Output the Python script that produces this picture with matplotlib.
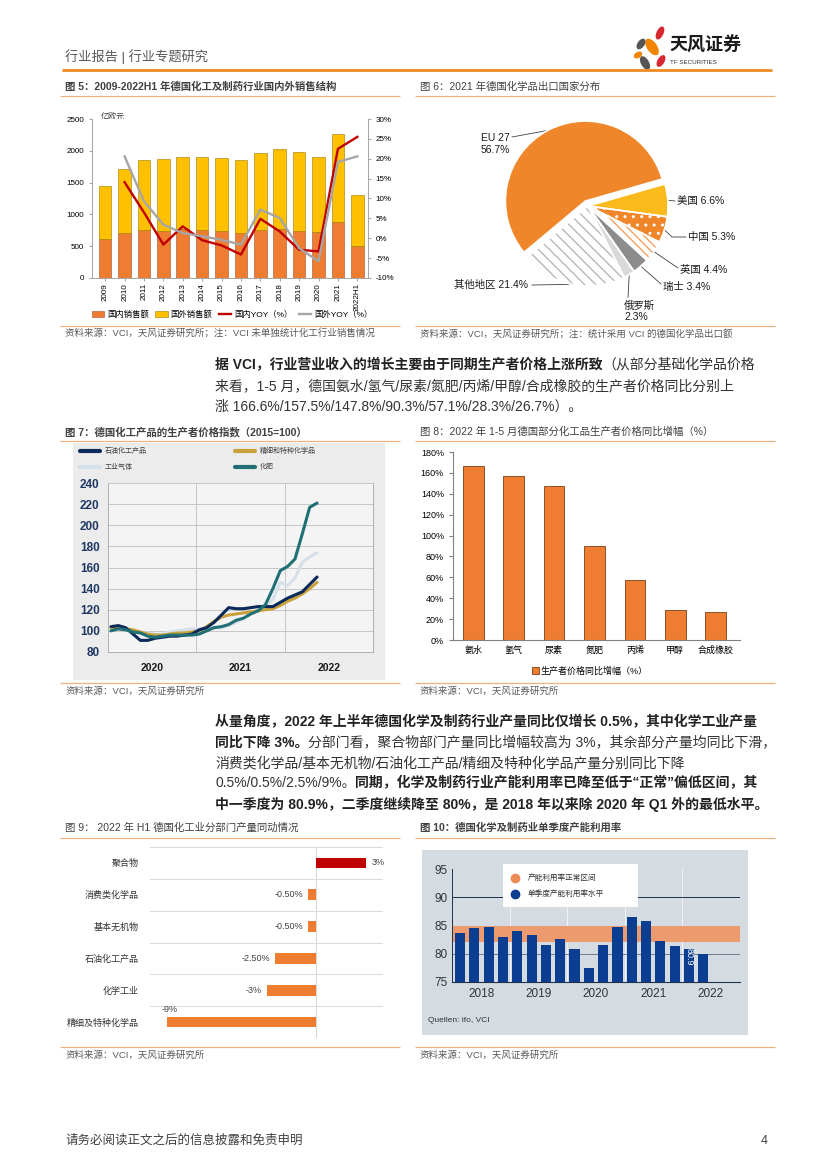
import numpy as np
import matplotlib.pyplot as plt
import matplotlib.patches as mpatches

plt.rcParams['font.family'] = ['Liberation Sans', 'Noto Sans CJK SC', 'DejaVu Sans']
plt.rcParams['hatch.linewidth'] = 1.0

W, H = 827, 1169

# ---- 图5 data
years5 = ['2009', '2010', '2011', '2012', '2013', '2014', '2015', '2016',
          '2017', '2018', '2019', '2020', '2021', '2022H1']
domestic5 = [620, 710, 760, 745, 770, 760, 745, 715, 750, 770, 745, 725, 880, 500]
foreign5 = [830, 1010, 1090, 1125, 1140, 1150, 1145, 1135, 1210, 1260, 1240, 1185, 1390, 805]
yoy_dom5 = [np.nan, 14.1, 6.5, -1.6, 3.0, -0.5, -1.8, -4.1, 4.9, 1.7, -2.9, -3.3, 22.5, 25.5]
yoy_for5 = [np.nan, 20.6, 9.3, 3.4, 1.3, 0.5, -0.4, -1.6, 7.2, 5.1, -2.5, -5.8, 19.2, 20.6]

# ---- 图6 data
names6 = ['EU 27', '其他地区', '俄罗斯', '瑞士', '英国', '中国', '美国']
shares6 = [56.7, 21.4, 2.3, 3.4, 4.4, 5.3, 6.6]

# ---- 图7 data (monthly, Jan 2020 - May 2022)
petro7 = [104, 105, 103, 97, 91, 91, 93, 94, 95, 95, 96, 97, 101, 103, 108, 115, 122,
          121, 121, 122, 123, 123, 123, 127, 131, 134, 137, 144, 151]
fine7 = [103, 102, 102, 101, 99, 97, 96, 96, 97, 98, 98, 99, 100, 104, 109, 113, 115,
         116, 117, 118, 119, 120, 121, 124, 128, 131, 135, 140, 146]
gas7 = [101, 102, 101, 100, 98, 98, 97, 97, 99, 100, 101, 102, 102, 102, 103, 103, 105,
        108, 112, 117, 120, 123, 130, 146, 143, 150, 165, 170, 174]
fert7 = [100, 102, 101, 99, 98, 95, 94, 95, 96, 96, 96, 96, 97, 100, 103, 104, 106,
         110, 112, 116, 119, 125, 140, 157, 161, 168, 192, 217, 221]
series7 = ['石油化工产品', '精细和特种化学品', '工业气体', '化肥']
years7 = ['2020', '2021', '2022']

# ---- 图8 data
cats8 = ['氨水', '氢气', '尿素', '氮肥', '丙烯', '甲醇', '合成橡胶']
vals8 = [166.6, 157.5, 147.8, 90.3, 57.1, 28.3, 26.7]

# ---- 图9 data
cats9 = ['聚合物', '消费类化学品', '基本无机物', '石油化工产品', '化学工业', '精细及特种化学品']
vals9 = [3, -0.5, -0.5, -2.5, -3, -9]
labels9 = ['3%', '-0.50%', '-0.50%', '-2.50%', '-3%', '-9%']

# ---- 图10 data (quarterly 2018Q1 - 2022Q2)
util10 = [83.7, 84.5, 84.8, 83.0, 84.0, 83.4, 81.6, 82.6, 80.8, 77.4, 81.5, 84.8,
          86.5, 85.8, 82.3, 81.4, 80.9, 80.0]
years10 = ['2018', '2019', '2020', '2021', '2022']
band10 = (82, 85)

ORANGE = '#EE7D31'
LINE_OR = '#F0B27A'
SRC_C = '#595959'

fig = plt.figure(figsize=(8.27, 11.69), dpi=100)
page = fig.add_axes([0, 0, 1, 1])
page.set_xlim(0, W)
page.set_ylim(H, 0)
page.axis('off')


def px_axes(x0, y0, x1, y1, **kw):
    return fig.add_axes([x0 / W, 1 - y1 / H, (x1 - x0) / W, (y1 - y0) / H], **kw)


def hline(y, x0, x1, color=LINE_OR, lw=0.9):
    page.plot([x0, x1], [y, y], color=color, lw=lw, solid_capstyle='butt')


renderer = fig.canvas.get_renderer()


def rich_line(x, y, parts, size=10):
    for s, bold in parts:
        t = page.text(x, y, s, fontsize=size, va='center', ha='left',
                      fontweight='bold' if bold else 'normal',
                      color='#222222' if bold else '#333333')
        x += t.get_window_extent(renderer=renderer).width


# ---------------- header ----------------
page.text(65, 57, '行业报告 | 行业专题研究', fontsize=9.5, color='#595959', va='center')
hline(70, 62, 772, color='#F08A24', lw=2)
petals = [(660, 33, 7, 14, 25, '#D7282F'), (652, 47, 10, 19, -35, '#F08300'),
          (641, 44, 7, 12, 35, '#555555'), (645, 63, 8, 15, -30, '#555555'),
          (661, 61, 7, 13, 30, '#D7282F'), (638, 55, 6, 9, 60, '#F08300')]
for cx, cy, w, h, a, c in petals:
    page.add_patch(mpatches.Ellipse((cx, cy), w, h, angle=a, color=c, lw=0))
page.text(669, 46, '天风证券', fontsize=13, fontweight='bold', color='#1A1A1A', va='center')
page.text(670, 62, 'TF SECURITIES', fontsize=4.5, color='#333333', va='center')

# ---------------- titles row 1 ----------------
page.text(65, 87, '图 5：2009-2022H1 年德国化工及制药行业国内外销售结构', fontsize=7.5,
          fontweight='bold', color='#404040', va='center')
page.text(420, 87, '图 6：2021 年德国化学品出口国家分布', fontsize=7.5, color='#404040', va='center')
hline(96, 60, 400)
hline(96, 415, 775)

# ---------------- chart 5 ----------------
ax5 = px_axes(92, 119, 368, 278)
x5 = np.arange(len(years5))
b1 = ax5.bar(x5, domestic5, 0.65, color=ORANGE, edgecolor='#A0522D', lw=0.4, label='国内销售额')
b2 = ax5.bar(x5, foreign5, 0.65, bottom=domestic5, color='#FFC000', edgecolor='#9C7A00',
             lw=0.4, label='国外销售额')
ax5.set_xlim(-0.68, 13.55)
ax5.set_ylim(0, 2500)
ax5.set_yticks(range(0, 2501, 500))
ax5.set_xticks(x5, years5, rotation=90)
ax5.tick_params(labelsize=5.8, length=2, color='#A6A6A6')
ax5.tick_params(axis='x', pad=1.5)
ax5r = ax5.twinx()
l1, = ax5r.plot(x5, yoy_dom5, color='#C00000', lw=1.7, label='国内YOY（%）')
l2, = ax5r.plot(x5, yoy_for5, color='#A6A6A6', lw=1.7, label='国外YOY（%）')
ax5r.set_ylim(-10, 30)
ax5r.set_yticks(range(-10, 31, 5), [f'{v}%' for v in range(-10, 31, 5)])
ax5r.tick_params(labelsize=5.8, length=2, color='#A6A6A6')
for a in (ax5, ax5r):
    a.spines['top'].set_visible(False)
    for s in ('left', 'right', 'bottom'):
        a.spines[s].set_color('#A6A6A6')
        a.spines[s].set_linewidth(0.6)
page.text(101, 117, '亿欧元', fontsize=5.8, va='center', color='#333333')
ax5.legend(handles=[b1, b2, l1, l2], loc='center', bbox_to_anchor=(232 / W, 1 - 315 / H),
           bbox_transform=fig.transFigure, ncol=4, frameon=False, fontsize=6,
           handlelength=1.5, handletextpad=0.3, columnspacing=0.8)
hline(326, 60, 400)
page.text(65, 334, '资料来源：VCI，天风证券研究所；注：VCI 未单独统计化工行业销售情况',
          fontsize=6.8, color=SRC_C, va='center')

# ---------------- chart 6 ----------------
ax6 = px_axes(498, 116, 678, 296)
colors6 = ['#F0862A', '#FFFFFF', '#D9D9D9', '#8C8C8C', '#FFFFFF', '#F0862A', '#FBBA1C']
explode6 = [0.07, 0, 0, 0, 0, 0, 0]
wedges, _ = ax6.pie(shares6, colors=colors6, startangle=16, counterclock=True,
                    explode=explode6, radius=1, wedgeprops=dict(linewidth=0))
wedges[1].set_hatch('\\\\\\')
wedges[1].set_edgecolor('#B8B8B8')
wedges[4].set_hatch('\\\\\\\\')
wedges[4].set_edgecolor('#F4A060')
wedges[5].set_hatch('..')
wedges[5].set_edgecolor('#FFFFFF')
for w in wedges:
    w.set_linewidth(0)
    ax6.add_patch(mpatches.Wedge(w.center, w.r, w.theta1, w.theta2, fill=False,
                                 ec='white', lw=1.2))
ax6.set_xlim(-1.125, 1.125)
ax6.set_ylim(-1.125, 1.125)
ax6.set_aspect('equal')
ax6.axis('off')
fig.canvas.draw()

label6 = [  # text x, y, line-end x, y (page px)
    (481, 144, 512, 137, True),
    (454, 285, 532, 285, False),
    (624, 311, 628, 297, True),
    (663, 287, 661, 284, False),
    (680, 270, 678, 268, False),
    (688, 237, 686, 237, False),
    (677, 201, 675, 201, False),
]
for w, n, v, (tx, ty, ex, ey, two) in zip(wedges, names6, shares6, label6):
    ang = np.deg2rad((w.theta1 + w.theta2) / 2)
    px, py = ax6.transData.transform((w.center[0] + np.cos(ang), w.center[1] + np.sin(ang)))
    py = H - py
    if n == '中国':
        page.plot([px, 672, ex], [py, ey, ey], color='#404040', lw=0.6)
    else:
        page.plot([px, ex], [py, ey], color='#404040', lw=0.6)
    s = f'{n}\n{v}%' if two else f'{n} {v}%'
    page.text(tx, ty, s, fontsize=7.5, color='#1A1A1A', va='center', ha='left', linespacing=1.15)
hline(326, 415, 775)
page.text(420, 334, '资料来源：VCI，天风证券研究所；注：统计采用 VCI 的德国化学品出口额',
          fontsize=6.8, color=SRC_C, va='center')

# ---------------- paragraph 1 ----------------
rich_line(215, 365, [('据 VCI，行业营业收入的增长主要由于同期生产者价格上涨所致', True),
                     ('（从部分基础化学品价格', False)])
rich_line(215, 386, [('来看，1-5 月，德国氨水/氢气/尿素/氮肥/丙烯/甲醇/合成橡胶的生产者价格同比分别上', False)])
rich_line(215, 407, [('涨 166.6%/157.5%/147.8%/90.3%/57.1%/28.3%/26.7%）。', False)])

# ---------------- titles row 2 ----------------
page.text(65, 432, '图 7：德国化工产品的生产者价格指数（2015=100）', fontsize=7.5,
          fontweight='bold', color='#404040', va='center')
page.text(420, 432, '图 8：2022 年 1-5 月德国部分化工品生产者价格同比增幅（%）', fontsize=7.5,
          color='#404040', va='center')
hline(441, 60, 400)
hline(441, 415, 775)

# ---------------- chart 7 ----------------
page.add_patch(mpatches.Rectangle((73, 443), 312, 237, color='#ECECEC', lw=0))
ax7 = px_axes(108, 483, 373, 652)
ax7.set_facecolor('#F4F4F4')
x7 = np.arange(len(petro7)) + 0.4
colors7 = ['#0B2A5B', '#C9A13B', '#D6E0EA', '#1F6F74']
data7 = [petro7, fine7, gas7, fert7]
for idx in (2, 1, 0, 3):
    ax7.plot(x7, data7[idx], color=colors7[idx], lw=2.2, solid_capstyle='round')
ax7.set_xlim(0, 36)
ax7.set_ylim(80, 240)
ax7.set_yticks(range(80, 241, 20))
ax7.set_xticks([6, 18, 30], years7)
ax7.set_xticks([12, 24, 36], minor=True)
ax7.grid(which='minor', axis='x', color='#BFBFBF', lw=0.6)
ax7.grid(which='major', axis='y', color='#BFBFBF', lw=0.6)
ax7.tick_params(which='both', length=0)
ax7.tick_params(axis='y', labelsize=8.5, labelcolor='#1F3864', pad=6)
ax7.tick_params(axis='x', labelsize=7.5, labelcolor='#1A1A1A', pad=8)
for lab in ax7.get_yticklabels() + ax7.get_xticklabels():
    lab.set_fontweight('bold')
ax7.spines['top'].set_visible(False)
for s in ('left', 'right', 'bottom'):
    ax7.spines[s].set_color('#A6A6A6')
    ax7.spines[s].set_linewidth(0.6)
leg7 = [(80, 451), (235, 451), (80, 467), (235, 467)]
for (lx, ly), name, c in zip(leg7, series7, colors7):
    page.plot([lx, lx + 20], [ly, ly], color=c, lw=3, solid_capstyle='round')
    page.text(lx + 25, ly, name, fontsize=5, color='#404040', va='center')
hline(683, 60, 400)
page.text(65, 691, '资料来源：VCI，天风证券研究所', fontsize=6.8, color=SRC_C, va='center')

# ---------------- chart 8 ----------------
ax8 = px_axes(453, 452, 740, 640)
x8 = np.arange(len(cats8))
bars8 = ax8.bar(x8, vals8, 0.51, color=ORANGE, edgecolor='#7F3F14', lw=0.6,
                label='生产者价格同比增幅（%）')
ax8.set_xlim(-0.5, 6.6)
ax8.set_ylim(0, 180)
ax8.set_yticks(range(0, 181, 20), [f'{v}%' for v in range(0, 181, 20)])
ax8.set_xticks(x8, cats8)
ax8.tick_params(axis='y', labelsize=6.5, length=3, color='#808080')
ax8.tick_params(axis='x', labelsize=6.5, length=0, pad=4)
ax8.spines['top'].set_visible(False)
ax8.spines['right'].set_visible(False)
ax8.spines['left'].set_color('#808080')
ax8.spines['bottom'].set_color('#808080')
ax8.legend(handles=[bars8], loc='center', bbox_to_anchor=(590 / W, 1 - 671 / H),
           bbox_transform=fig.transFigure, frameon=False, fontsize=6.5,
           handlelength=0.7, handleheight=0.7, handletextpad=0.2)
hline(683, 415, 775)
page.text(420, 691, '资料来源：VCI，天风证券研究所', fontsize=6.8, color=SRC_C, va='center')

# ---------------- paragraph 2 ----------------
rich_line(215, 722, [('从量角度，2022 年上半年德国化学及制药行业产量同比仅增长 0.5%，其中化学工业产量', True)])
rich_line(215, 742.5, [('同比下降 3%。', True),
                       ('分部门看，聚合物部门产量同比增幅较高为 3%，其余部分产量均同比下滑，', False)])
rich_line(215, 763, [('消费类化学品/基本无机物/石油化工产品/精细及特种化学品产量分别同比下降', False)])
rich_line(215, 783.5, [('0.5%/0.5%/2.5%/9%。', False),
                       ('同期，化学及制药行业产能利用率已降至低于“正常”偏低区间，其', True)])
rich_line(215, 804, [('中一季度为 80.9%，二季度继续降至 80%，是 2018 年以来除 2020 年 Q1 外的最低水平。', True)])

# ---------------- titles row 3 ----------------
page.text(65, 828, '图 9： 2022 年 H1 德国化工业分部门产量同动情况', fontsize=7.5,
          color='#404040', va='center')
page.text(420, 828, '图 10：德国化学及制药业单季度产能利用率', fontsize=7.5,
          fontweight='bold', color='#404040', va='center')
hline(838, 60, 400)
hline(838, 415, 775)

# ---------------- chart 9 ----------------
ax9 = px_axes(150, 847, 383, 1038)
y9 = np.arange(len(cats9))
colors9 = ['#C00000' if v > 0 else ORANGE for v in vals9]
ax9.barh(y9, vals9, 0.33, color=colors9, zorder=3)
ax9.set_ylim(5.5, -0.5)
ax9.set_xlim(-10, 4)
ax9.set_yticks(y9, cats9)
ax9.set_yticks(np.arange(-0.5, 6, 1), minor=True)
ax9.grid(which='minor', axis='y', color='#D9D9D9', lw=0.7)
ax9.axvline(0, color='#D9D9D9', lw=0.8, zorder=1)
ax9.set_xticks([])
ax9.tick_params(which='both', length=0)
ax9.tick_params(axis='y', labelsize=6.5, labelcolor='#333333', pad=8)
for s in ax9.spines.values():
    s.set_visible(False)
for yi, v, lab in zip(y9, vals9, labels9):
    if v > 0:
        ax9.text(v + 0.3, yi, lab, fontsize=6.5, va='center', ha='left', color='#404040')
    elif v < -5:
        ax9.text(v + 0.2, yi - 0.25, lab, fontsize=6.5, va='bottom', ha='center', color='#404040')
    else:
        ax9.text(v - 0.3, yi, lab, fontsize=6.5, va='center', ha='right', color='#404040')
hline(1047, 60, 400)
page.text(65, 1055, '资料来源：VCI，天风证券研究所', fontsize=6.8, color=SRC_C, va='center')

# ---------------- chart 10 ----------------
page.add_patch(mpatches.Rectangle((422, 850), 326, 185, color='#D4DCE2', lw=0))
ax10 = px_axes(452, 869, 740, 982)
ax10.set_facecolor('none')
x10 = np.arange(len(util10))
ax10.axhspan(band10[0], band10[1], color='#EC9A6E', lw=0, zorder=2)
for xv in (3.5, 7.5, 11.5, 15.5):
    ax10.axvline(xv, color='white', lw=0.6, alpha=0.8, zorder=1)
ax10.axhline(90, color='#1F3050', lw=0.7, zorder=1)
ax10.axhline(80, color='#6B7B8C', lw=0.7, zorder=1)
ax10.bar(x10, util10, 0.7, color='#0B3D91', zorder=3)
ax10.set_xlim(-0.55, 19.55)
ax10.set_ylim(75, 95)
ax10.set_yticks(range(75, 96, 5))
ax10.set_xticks([1.5, 5.5, 9.5, 13.5, 17.5], years10)
ax10.tick_params(length=0, labelsize=8.5, labelcolor='#333333')
ax10.tick_params(axis='y', pad=3)
ax10.tick_params(axis='x', pad=4)
ax10.spines['top'].set_visible(False)
ax10.spines['right'].set_visible(False)
ax10.spines['left'].set_color('#1F3050')
ax10.spines['bottom'].set_color('#1F3050')
ax10.spines['left'].set_linewidth(0.7)
ax10.spines['bottom'].set_linewidth(0.8)
ax10.text(16, util10[16] - 1.5, f'{util10[16]}', rotation=270, color='white', fontsize=6.5,
          ha='center', va='center', zorder=4)
top = px_axes(0, 0, W, H, zorder=5)
top.set_xlim(0, W)
top.set_ylim(H, 0)
top.axis('off')
top.add_patch(mpatches.Rectangle((503, 864), 135, 43, color='white', lw=0))
top.plot([515], [878], 'o', ms=6, color='#EE8A55')
top.plot([515], [894], 'o', ms=6, color='#0B3D91')
top.text(528, 878, '产能利用率正常区间', fontsize=5.5, color='#333333', va='center')
top.text(528, 894, '单季度产能利用率水平', fontsize=5.5, color='#333333', va='center')
top.text(428, 1020, 'Quellen: ifo, VCI', fontsize=6, color='#333333', va='center')
hline(1047, 415, 775)
page.text(420, 1055, '资料来源：VCI，天风证券研究所', fontsize=6.8, color=SRC_C, va='center')

# ---------------- footer ----------------
page.text(65, 1141, '请务必阅读正文之后的信息披露和免责申明', fontsize=9, color='#404040', va='center')
page.text(768, 1141, '4', fontsize=9, color='#404040', va='center', ha='right')

fig.savefig('out.png', dpi=100)
